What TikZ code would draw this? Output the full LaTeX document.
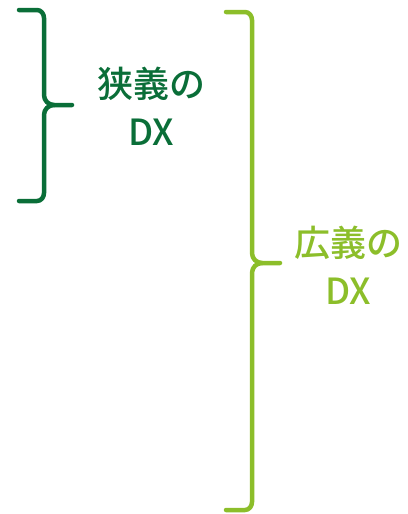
\documentclass[tikz,border=0pt]{standalone}
\usepackage{fontspec}
\newfontfamily\cjk{Noto Sans CJK JP Medium}
\definecolor{dgreen}{RGB}{10,110,56}
\definecolor{lgreen}{RGB}{140,190,42}
\begin{document}
\begin{tikzpicture}[x=1pt,y=-1pt,
  bracestyle/.style={line width=4.5pt,line cap=round,line join=round},
  lbl/.style={align=center,font=\cjk\fontsize{36}{48}\selectfont,inner sep=0pt}]
\useasboundingbox (0,0) rectangle (407,514);
% narrow brace
\coordinate (a1) at (19,10);
\coordinate (a2) at (19,201);
\coordinate (at) at (72,105);
\draw[bracestyle,dgreen] (a1) -- (37,10) to[out=0,in=90] (44,18) -- (44,95)
   to[out=-90,in=180] (54,105) -- (at);
\draw[bracestyle,dgreen] (a2) -- (37,201) to[out=0,in=-90] (44,193) -- (44,115)
   to[out=90,in=180] (54,105);
\node[lbl,text=dgreen] (n1) at (151,106) {狭義の\\DX};
% wide brace
\coordinate (b1) at (226,12);
\coordinate (b2) at (226,510);
\coordinate (bt) at (280,263);
\draw[bracestyle,lgreen] (b1) -- (245,12) to[out=0,in=90] (252,20) -- (252,253)
   to[out=-90,in=180] (262,263) -- (bt);
\draw[bracestyle,lgreen] (b2) -- (245,510) to[out=0,in=-90] (252,502) -- (252,273)
   to[out=90,in=180] (262,263);
\node[lbl,text=lgreen] (n2) at (348,265) {広義の\\DX};
\end{tikzpicture}
\end{document}
